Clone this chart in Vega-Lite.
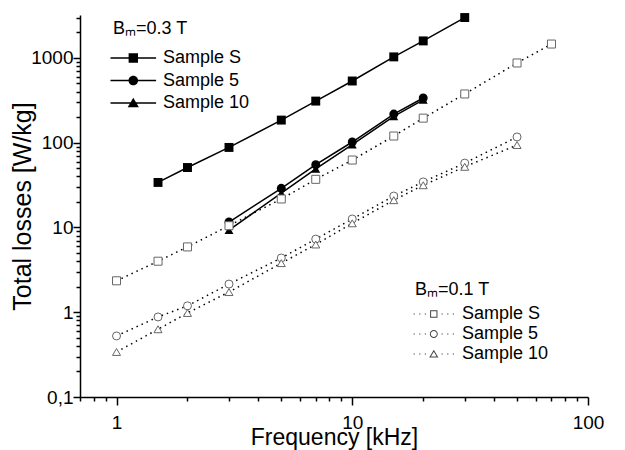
{
  "$schema": "https://vega.github.io/schema/vega-lite/v6.json",
  "width": 508,
  "height": 382,
  "autosize": {"type": "none"},
  "padding": {"left": 80, "top": 15, "right": 37, "bottom": 53},
  "background": "white",
  "config": {
    "view": {"stroke": null},
    "font": "Liberation Sans",
    "axis": {
      "grid": false,
      "domainColor": "black",
      "domainWidth": 1.5,
      "tickColor": "black",
      "tickWidth": 1.5,
      "labelFont": "Liberation Sans",
      "labelFontSize": 19,
      "labelColor": "black",
      "titleFont": "Liberation Sans",
      "titleFontWeight": "normal",
      "titleColor": "black"
    },
    "legend": {
      "labelFont": "Liberation Sans",
      "titleFont": "Liberation Sans",
      "labelFontSize": 18,
      "titleFontSize": 18,
      "titleFontWeight": "normal",
      "labelColor": "black",
      "titleColor": "black"
    }
  },
  "data": {
    "values": [
      {"B": "0.3 T", "sample": "Sample S", "f": 1.5, "loss": 34},
      {"B": "0.3 T", "sample": "Sample S", "f": 2, "loss": 51},
      {"B": "0.3 T", "sample": "Sample S", "f": 3, "loss": 88},
      {"B": "0.3 T", "sample": "Sample S", "f": 5, "loss": 185},
      {"B": "0.3 T", "sample": "Sample S", "f": 7, "loss": 310},
      {"B": "0.3 T", "sample": "Sample S", "f": 10, "loss": 535},
      {"B": "0.3 T", "sample": "Sample S", "f": 15, "loss": 1030},
      {"B": "0.3 T", "sample": "Sample S", "f": 20, "loss": 1590},
      {"B": "0.3 T", "sample": "Sample S", "f": 30, "loss": 3000},
      {"B": "0.3 T", "sample": "Sample 5", "f": 3, "loss": 11.6},
      {"B": "0.3 T", "sample": "Sample 5", "f": 5, "loss": 29},
      {"B": "0.3 T", "sample": "Sample 5", "f": 7, "loss": 55},
      {"B": "0.3 T", "sample": "Sample 5", "f": 10, "loss": 102},
      {"B": "0.3 T", "sample": "Sample 5", "f": 15, "loss": 218},
      {"B": "0.3 T", "sample": "Sample 5", "f": 20, "loss": 337},
      {"B": "0.3 T", "sample": "Sample 10", "f": 3, "loss": 9.3},
      {"B": "0.3 T", "sample": "Sample 10", "f": 5, "loss": 25.5},
      {"B": "0.3 T", "sample": "Sample 10", "f": 7, "loss": 49},
      {"B": "0.3 T", "sample": "Sample 10", "f": 10, "loss": 95},
      {"B": "0.3 T", "sample": "Sample 10", "f": 15, "loss": 205},
      {"B": "0.3 T", "sample": "Sample 10", "f": 20, "loss": 320},
      {"B": "0.1 T", "sample": "Sample S", "f": 1, "loss": 2.35},
      {"B": "0.1 T", "sample": "Sample S", "f": 1.5, "loss": 4.0},
      {"B": "0.1 T", "sample": "Sample S", "f": 2, "loss": 5.9},
      {"B": "0.1 T", "sample": "Sample S", "f": 3, "loss": 10.5},
      {"B": "0.1 T", "sample": "Sample S", "f": 5, "loss": 21.7},
      {"B": "0.1 T", "sample": "Sample S", "f": 7, "loss": 37},
      {"B": "0.1 T", "sample": "Sample S", "f": 10, "loss": 62.5},
      {"B": "0.1 T", "sample": "Sample S", "f": 15, "loss": 120},
      {"B": "0.1 T", "sample": "Sample S", "f": 20, "loss": 195},
      {"B": "0.1 T", "sample": "Sample S", "f": 30, "loss": 376},
      {"B": "0.1 T", "sample": "Sample S", "f": 50, "loss": 873},
      {"B": "0.1 T", "sample": "Sample S", "f": 70, "loss": 1460},
      {"B": "0.1 T", "sample": "Sample 5", "f": 1, "loss": 0.525},
      {"B": "0.1 T", "sample": "Sample 5", "f": 1.5, "loss": 0.88},
      {"B": "0.1 T", "sample": "Sample 5", "f": 2, "loss": 1.19},
      {"B": "0.1 T", "sample": "Sample 5", "f": 3, "loss": 2.15},
      {"B": "0.1 T", "sample": "Sample 5", "f": 5, "loss": 4.37},
      {"B": "0.1 T", "sample": "Sample 5", "f": 7, "loss": 7.3},
      {"B": "0.1 T", "sample": "Sample 5", "f": 10, "loss": 12.6},
      {"B": "0.1 T", "sample": "Sample 5", "f": 15, "loss": 23.5},
      {"B": "0.1 T", "sample": "Sample 5", "f": 20, "loss": 34.5},
      {"B": "0.1 T", "sample": "Sample 5", "f": 30, "loss": 57.5},
      {"B": "0.1 T", "sample": "Sample 5", "f": 50, "loss": 117},
      {"B": "0.1 T", "sample": "Sample 10", "f": 1, "loss": 0.34},
      {"B": "0.1 T", "sample": "Sample 10", "f": 1.5, "loss": 0.63},
      {"B": "0.1 T", "sample": "Sample 10", "f": 2, "loss": 0.98},
      {"B": "0.1 T", "sample": "Sample 10", "f": 3, "loss": 1.73},
      {"B": "0.1 T", "sample": "Sample 10", "f": 5, "loss": 3.8},
      {"B": "0.1 T", "sample": "Sample 10", "f": 7, "loss": 6.3},
      {"B": "0.1 T", "sample": "Sample 10", "f": 10, "loss": 11.2},
      {"B": "0.1 T", "sample": "Sample 10", "f": 15, "loss": 21},
      {"B": "0.1 T", "sample": "Sample 10", "f": 20, "loss": 31.5},
      {"B": "0.1 T", "sample": "Sample 10", "f": 30, "loss": 52},
      {"B": "0.1 T", "sample": "Sample 10", "f": 50, "loss": 94}
    ]
  },
  "encoding": {
    "x": {
      "field": "f",
      "type": "quantitative",
      "scale": {"type": "log", "domain": [0.7, 100], "nice": false},
      "axis": {
        "title": "Frequency [kHz]",
        "titleFontSize": 23,
        "values": [0.7, 0.8, 0.9, 1, 2, 3, 4, 5, 6, 7, 8, 9, 10, 20, 30, 40, 50, 60, 70, 80, 90, 100],
        "labelExpr": "abs(log(datum.value)/LN10 - round(log(datum.value)/LN10)) < 0.001 ? format(datum.value, 'd') : ''",
        "labelOverlap": false,
        "tickSize": {"condition": {"test": "abs(log(datum.value)/LN10 - round(log(datum.value)/LN10)) < 0.001", "value": 8}, "value": 4},
        "labelPadding": 8,
        "titlePadding": -6,
        "labelFlush": false
      }
    },
    "y": {
      "field": "loss",
      "type": "quantitative",
      "scale": {"type": "log", "domain": [0.1, 3214], "nice": false},
      "axis": {
        "title": "Total losses [W/kg]",
        "titleFontSize": 25,
        "values": [0.1, 0.2, 0.3, 0.4, 0.5, 0.6, 0.7, 0.8, 0.9, 1, 2, 3, 4, 5, 6, 7, 8, 9, 10, 20, 30, 40, 50, 60, 70, 80, 90, 100, 200, 300, 400, 500, 600, 700, 800, 900, 1000, 2000, 3000],
        "labelExpr": "abs(log(datum.value)/LN10 - round(log(datum.value)/LN10)) < 0.001 ? (datum.value < 1 ? '0,1' : format(datum.value, 'd')) : ''",
        "labelOverlap": false,
        "tickSize": {"condition": {"test": "abs(log(datum.value)/LN10 - round(log(datum.value)/LN10)) < 0.001", "value": 7}, "value": 4},
        "labelPadding": 0,
        "titlePadding": -5,
        "labelFlush": false
      }
    }
  },
  "layer": [
    {
      "transform": [{"filter": "datum.B === '0.3 T'"}],
      "mark": {"type": "line", "color": "black", "strokeWidth": 1.5},
      "encoding": {"detail": {"field": "sample"}}
    },
    {
      "transform": [{"filter": "datum.B === '0.1 T'"}],
      "mark": {"type": "line", "color": "black", "strokeWidth": 1.5, "strokeDash": [1.5, 4]},
      "encoding": {"detail": {"field": "sample"}}
    },
    {
      "transform": [{"filter": "datum.B === '0.3 T' && datum.sample === 'Sample S'"}],
      "mark": {"type": "point", "shape": "square", "filled": true, "color": "black", "size": 80, "opacity": 1}
    },
    {
      "transform": [{"filter": "datum.B === '0.3 T' && datum.sample === 'Sample 5'"}],
      "mark": {"type": "point", "shape": "circle", "filled": true, "color": "black", "size": 80, "opacity": 1}
    },
    {
      "transform": [{"filter": "datum.B === '0.3 T' && datum.sample === 'Sample 10'"}],
      "mark": {"type": "point", "shape": "triangle-up", "filled": true, "color": "black", "size": 80, "opacity": 1}
    },
    {
      "transform": [{"filter": "datum.B === '0.1 T' && datum.sample === 'Sample S'"}],
      "mark": {"type": "point", "shape": "square", "filled": true, "fill": "white", "stroke": "#666666", "strokeWidth": 1, "size": 64, "opacity": 1}
    },
    {
      "transform": [{"filter": "datum.B === '0.1 T' && datum.sample === 'Sample 5'"}],
      "mark": {"type": "point", "shape": "circle", "filled": true, "fill": "white", "stroke": "#666666", "strokeWidth": 1, "size": 64, "opacity": 1}
    },
    {
      "transform": [{"filter": "datum.B === '0.1 T' && datum.sample === 'Sample 10'"}],
      "mark": {"type": "point", "shape": "triangle-up", "filled": true, "fill": "white", "stroke": "#666666", "strokeWidth": 1, "size": 64, "opacity": 1}
    },
    {
      "transform": [{"filter": "false"}],
      "mark": {"type": "point", "filled": true, "color": "black", "opacity": 1},
      "encoding": {
        "shape": {
          "field": "sample",
          "scale": {
            "domain": ["Sample S", "Sample 5", "Sample 10"],
            "range": [
              "M-2.875,-0.19H8.525V0.19H-2.875ZM1.655,-1.17H3.995V1.17H1.655Z",
              "M-2.875,-0.19H8.525V0.19H-2.875ZM4.025,0A1.2,1.2 0 1,1 1.625,0A1.2,1.2 0 1,1 4.025,0Z",
              "M-2.875,-0.19H8.525V0.19H-2.875ZM2.825,-1.3L4.225,1.05H1.425Z"
            ]
          },
          "legend": {
            "title": "Bₘ=0.3 T",
            "orient": "none",
            "legendX": 33,
            "legendY": 5,
            "padding": 0,
            "symbolSize": 64,
            "symbolFillColor": "black",
            "labelOffset": 32,
            "rowPadding": 4.5,
            "titlePadding": 11
          }
        }
      }
    },
    {
      "transform": [{"filter": "false"}],
      "mark": {"type": "point", "filled": true, "color": "#444444", "fill": "#444444", "opacity": 1},
      "encoding": {
        "shape": {
          "field": "sample",
          "scale": {
            "domain": ["Sample S", "Sample 5", "Sample 10"],
            "range": [
              "M0.2,-0.15h0.3v0.3h-0.3ZM-1.2,-0.15h0.3v0.3h-0.3ZM-2.6,-0.15h0.3v0.3h-0.3ZM4.4,-0.15h0.3v0.3h-0.3ZM5.8,-0.15h0.3v0.3h-0.3ZM7.2,-0.15h0.3v0.3h-0.3ZM1.53,-0.92H3.37V0.92H1.53ZM1.78,-0.67V0.67H3.12V-0.67Z",
              "M0.2,-0.15h0.3v0.3h-0.3ZM-1.2,-0.15h0.3v0.3h-0.3ZM-2.6,-0.15h0.3v0.3h-0.3ZM4.4,-0.15h0.3v0.3h-0.3ZM5.8,-0.15h0.3v0.3h-0.3ZM7.2,-0.15h0.3v0.3h-0.3ZM3.45,0A1,1 0 1,1 1.45,0A1,1 0 1,1 3.45,0ZM3.2,0A0.75,0.75 0 1,0 1.7,0A0.75,0.75 0 1,0 3.2,0Z",
              "M0.2,-0.15h0.3v0.3h-0.3ZM-1.2,-0.15h0.3v0.3h-0.3ZM-2.6,-0.15h0.3v0.3h-0.3ZM4.4,-0.15h0.3v0.3h-0.3ZM5.8,-0.15h0.3v0.3h-0.3ZM7.2,-0.15h0.3v0.3h-0.3ZM2.45,-1.05L3.6,0.9H1.3ZM2.45,-0.56L1.737,0.65H3.163Z"
            ]
          },
          "legend": {
            "title": "Bₘ=0.1 T",
            "orient": "none",
            "legendX": 335,
            "legendY": 266,
            "padding": 0,
            "symbolSize": 64,
            "symbolFillColor": "#444444",
            "labelOffset": 29,
            "rowPadding": 2,
            "titlePadding": 6
          }
        }
      }
    }
  ],
  "resolve": {"scale": {"shape": "independent"}}
}
